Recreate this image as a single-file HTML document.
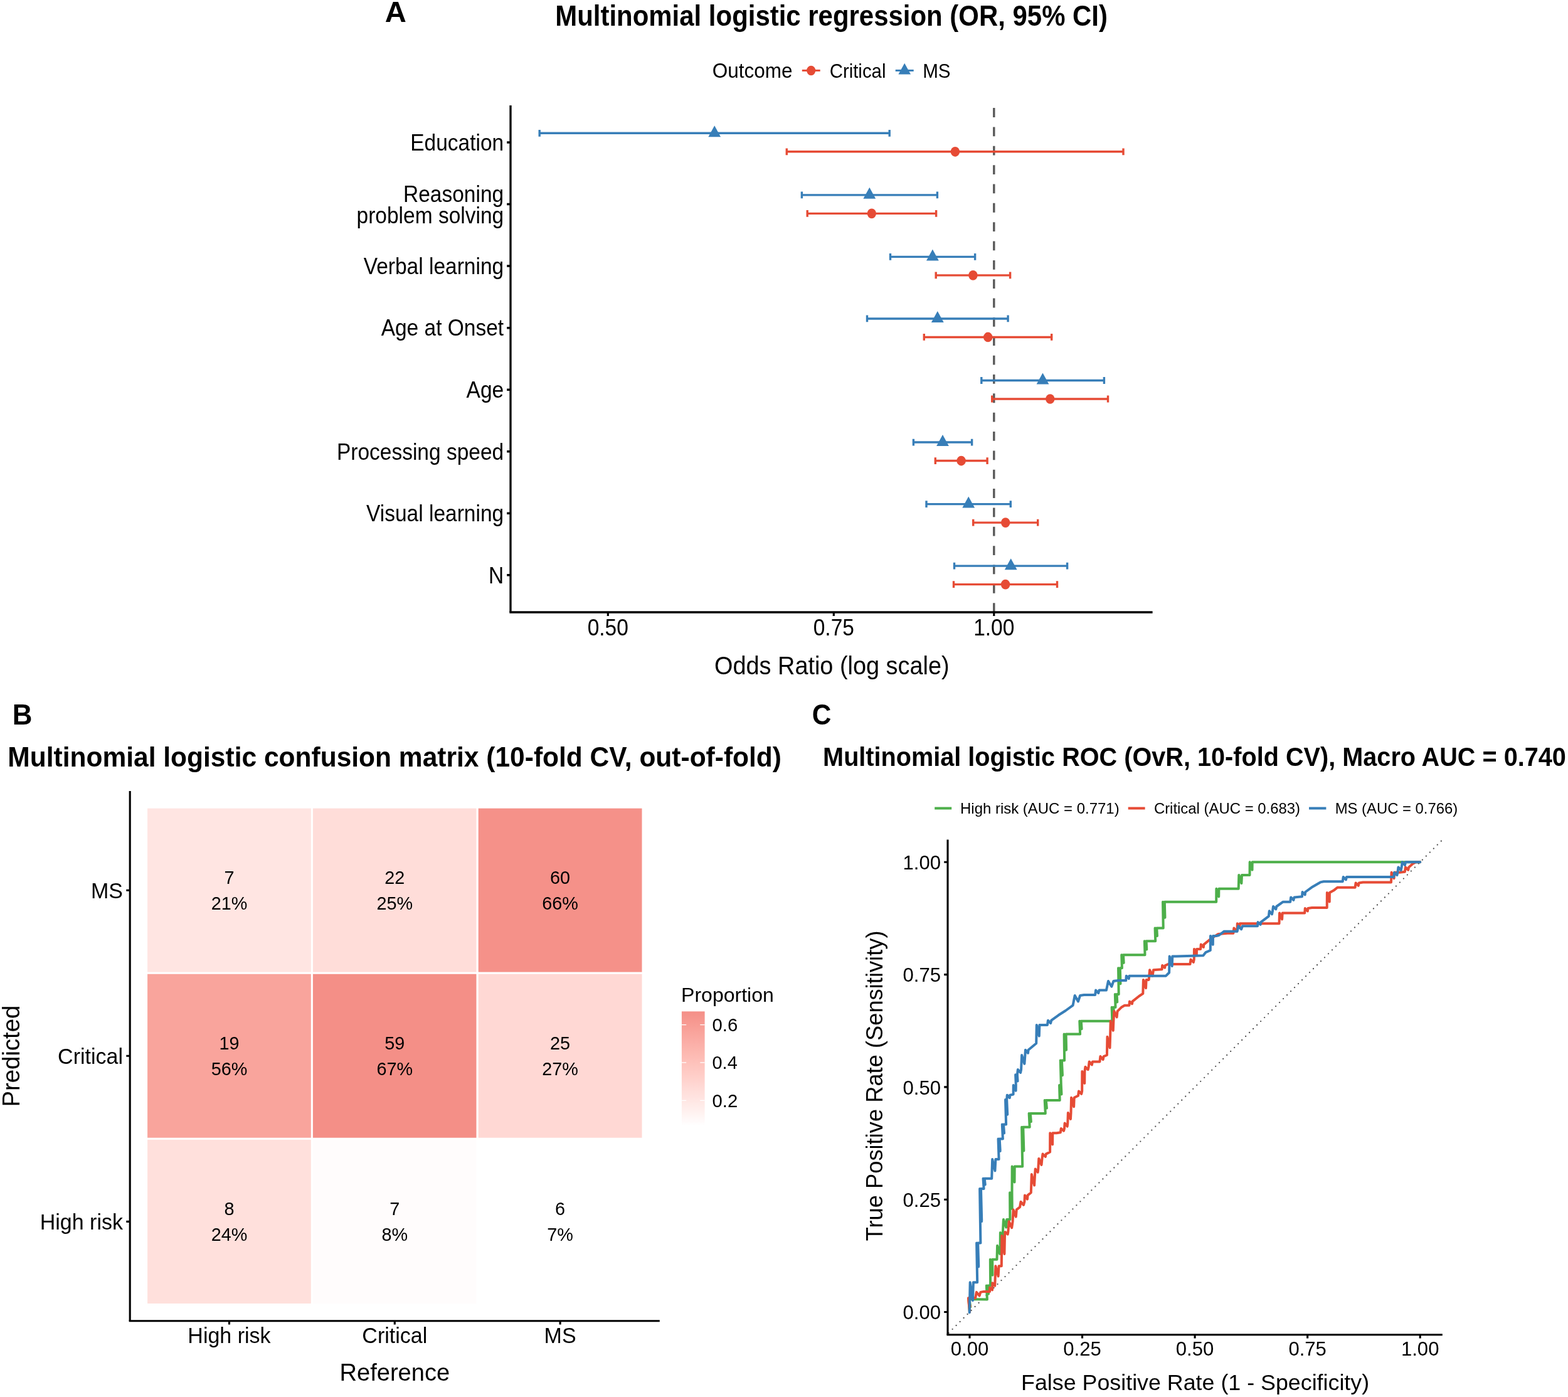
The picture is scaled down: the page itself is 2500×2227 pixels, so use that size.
<!DOCTYPE html><html><head><meta charset="utf-8"><title>Multinomial logistic regression figure</title><style>html,body{margin:0;padding:0;background:#fff;}svg{display:block;}</style></head><body><svg width="2500" height="2227" viewBox="0 0 2500 2227"><rect width="2500" height="2227" fill="#fff"/><line x1="1278.8" y1="112.4" x2="1307.7" y2="112.4" stroke="#E64B35" stroke-width="3"/>
<ellipse cx="1293.2" cy="112.5" rx="7.1" ry="7.8" fill="#E64B35"/>
<line x1="1427.7" y1="112.4" x2="1456.7" y2="112.4" stroke="#377EB8" stroke-width="3"/>
<polygon points="1442.2,100.8 1452,118.5 1432.4,118.5" fill="#377EB8"/>
<line x1="1584.8" y1="976.0" x2="1584.8" y2="168.0" stroke="#595959" stroke-width="3.4" stroke-dasharray="14.8 15.55"/>
<path d="M860.2 212.3H1418.2M860.2 206.9V217.7M1418.2 206.9V217.7" stroke="#377EB8" stroke-width="3.4" fill="none"/>
<path d="M1254.3 241.8H1791M1254.3 236.4V247.2M1791 236.4V247.2" stroke="#E64B35" stroke-width="3.4" fill="none"/>
<path d="M1278.4 310.85H1494.4M1278.4 305.45V316.25M1494.4 305.45V316.25" stroke="#377EB8" stroke-width="3.4" fill="none"/>
<path d="M1287.2 340.35H1492.6M1287.2 334.95V345.75M1492.6 334.95V345.75" stroke="#E64B35" stroke-width="3.4" fill="none"/>
<path d="M1419.5 409.4H1554.6M1419.5 404V414.8M1554.6 404V414.8" stroke="#377EB8" stroke-width="3.4" fill="none"/>
<path d="M1492.2 438.9H1610.6M1492.2 433.5V444.3M1610.6 433.5V444.3" stroke="#E64B35" stroke-width="3.4" fill="none"/>
<path d="M1382.5 507.95H1607.1M1382.5 502.55V513.35M1607.1 502.55V513.35" stroke="#377EB8" stroke-width="3.4" fill="none"/>
<path d="M1473.3 537.45H1676.7M1473.3 532.05V542.85M1676.7 532.05V542.85" stroke="#E64B35" stroke-width="3.4" fill="none"/>
<path d="M1564.8 606.5H1760.4M1564.8 601.1V611.9M1760.4 601.1V611.9" stroke="#377EB8" stroke-width="3.4" fill="none"/>
<path d="M1581.7 636H1766.5M1581.7 630.6V641.4M1766.5 630.6V641.4" stroke="#E64B35" stroke-width="3.4" fill="none"/>
<path d="M1456.4 705.05H1549.6M1456.4 699.65V710.45M1549.6 699.65V710.45" stroke="#377EB8" stroke-width="3.4" fill="none"/>
<path d="M1491.3 734.55H1574.1M1491.3 729.15V739.95M1574.1 729.15V739.95" stroke="#E64B35" stroke-width="3.4" fill="none"/>
<path d="M1477 803.6H1611.3M1477 798.2V809M1611.3 798.2V809" stroke="#377EB8" stroke-width="3.4" fill="none"/>
<path d="M1551.7 833.1H1654.7M1551.7 827.7V838.5M1654.7 827.7V838.5" stroke="#E64B35" stroke-width="3.4" fill="none"/>
<path d="M1521.5 902.15H1701.6M1521.5 896.75V907.55M1701.6 896.75V907.55" stroke="#377EB8" stroke-width="3.4" fill="none"/>
<path d="M1520.5 931.65H1685.5M1520.5 926.25V937.05M1685.5 926.25V937.05" stroke="#E64B35" stroke-width="3.4" fill="none"/>
<polygon points="1139.2,200.3 1149.1,218.3 1129.3,218.3" fill="#377EB8"/>
<ellipse cx="1522.9" cy="241.8" rx="7.2" ry="7.85" fill="#E64B35"/>
<polygon points="1386.3,298.85 1396.2,316.85 1376.4,316.85" fill="#377EB8"/>
<ellipse cx="1389.8" cy="340.35" rx="7.2" ry="7.85" fill="#E64B35"/>
<polygon points="1486.9,397.4 1496.8,415.4 1477,415.4" fill="#377EB8"/>
<ellipse cx="1551.4" cy="438.9" rx="7.2" ry="7.85" fill="#E64B35"/>
<polygon points="1494.8,495.95 1504.7,513.95 1484.9,513.95" fill="#377EB8"/>
<ellipse cx="1575.2" cy="537.45" rx="7.2" ry="7.85" fill="#E64B35"/>
<polygon points="1662.5,594.5 1672.4,612.5 1652.6,612.5" fill="#377EB8"/>
<ellipse cx="1674.3" cy="636" rx="7.2" ry="7.85" fill="#E64B35"/>
<polygon points="1503,693.05 1512.9,711.05 1493.1,711.05" fill="#377EB8"/>
<ellipse cx="1532.6" cy="734.55" rx="7.2" ry="7.85" fill="#E64B35"/>
<polygon points="1544.2,791.6 1554.1,809.6 1534.3,809.6" fill="#377EB8"/>
<ellipse cx="1603.2" cy="833.1" rx="7.2" ry="7.85" fill="#E64B35"/>
<polygon points="1611.7,890.15 1621.6,908.15 1601.8,908.15" fill="#377EB8"/>
<ellipse cx="1603.1" cy="931.65" rx="7.2" ry="7.85" fill="#E64B35"/>
<path d="M814.0 168.0V976.0" stroke="#000" stroke-width="3.3" fill="none"/>
<path d="M812.35 976.0H1837.6" stroke="#000" stroke-width="3.6" fill="none"/>
<path d="M808.2 227H814.0M808.2 325.55H814.0M808.2 424.1H814.0M808.2 522.65H814.0M808.2 621.2H814.0M808.2 719.75H814.0M808.2 818.3H814.0M808.2 916.85H814.0" stroke="#000" stroke-width="3.5" fill="none"/>
<path d="M969.3 976.0V981.9M1329.3 976.0V981.9M1584.8 976.0V981.9" stroke="#000" stroke-width="3.2" fill="none"/>
<rect x="233.6" y="1287.15" width="263.8" height="264.1" fill="#FFE5E2" stroke="#fff" stroke-width="3"/>
<rect x="497.4" y="1287.15" width="263.8" height="264.1" fill="#FFDDD9" stroke="#fff" stroke-width="3"/>
<rect x="761.2" y="1287.15" width="263.8" height="264.1" fill="#F59189" stroke="#fff" stroke-width="3"/>
<rect x="233.6" y="1551.25" width="263.8" height="264.1" fill="#F9A49C" stroke="#fff" stroke-width="3"/>
<rect x="497.4" y="1551.25" width="263.8" height="264.1" fill="#F48F87" stroke="#fff" stroke-width="3"/>
<rect x="761.2" y="1551.25" width="263.8" height="264.1" fill="#FFD8D4" stroke="#fff" stroke-width="3"/>
<rect x="233.6" y="1815.35" width="263.8" height="264.1" fill="#FFE0DC" stroke="#fff" stroke-width="3"/>
<rect x="497.4" y="1815.35" width="263.8" height="264.1" fill="#FFFCFC" stroke="#fff" stroke-width="3"/>
<rect x="761.2" y="1815.35" width="263.8" height="264.1" fill="#FFFFFF" stroke="#fff" stroke-width="3"/>
<path d="M207.2 1261.1V2105.7" stroke="#000" stroke-width="3.1" fill="none"/>
<path d="M205.64999999999998 2105.7H1051.8" stroke="#000" stroke-width="3.1" fill="none"/>
<path d="M201.3 1419.2H207.2M201.3 1683.3H207.2M201.3 1947.4H207.2" stroke="#000" stroke-width="3.1" fill="none"/>
<path d="M365.5 2105.7V2111.4M629.3 2105.7V2111.4M893.1 2105.7V2111.4" stroke="#000" stroke-width="3.1" fill="none"/>
<defs><linearGradient id="gb" x1="0" y1="0" x2="0" y2="1"><stop offset="0.000" stop-color="#F48F87"/><stop offset="0.050" stop-color="#F5958D"/><stop offset="0.100" stop-color="#F79A92"/><stop offset="0.150" stop-color="#F8A098"/><stop offset="0.200" stop-color="#F9A69E"/><stop offset="0.250" stop-color="#FAABA4"/><stop offset="0.300" stop-color="#FBB1AA"/><stop offset="0.350" stop-color="#FCB7AF"/><stop offset="0.400" stop-color="#FDBCB5"/><stop offset="0.450" stop-color="#FEC2BB"/><stop offset="0.500" stop-color="#FEC7C1"/><stop offset="0.550" stop-color="#FFCDC7"/><stop offset="0.600" stop-color="#FFD2CD"/><stop offset="0.650" stop-color="#FFD8D4"/><stop offset="0.700" stop-color="#FFDEDA"/><stop offset="0.750" stop-color="#FFE3E0"/><stop offset="0.800" stop-color="#FFE9E6"/><stop offset="0.850" stop-color="#FFEEEC"/><stop offset="0.900" stop-color="#FFF4F2"/><stop offset="0.950" stop-color="#FFF9F9"/><stop offset="1.000" stop-color="#FFFFFF"/></linearGradient></defs>
<rect x="1086.9" y="1612.34" width="36.7" height="182.41" fill="url(#gb)"/>
<path d="M1086.9 1633.6H1094.2M1116.3 1633.6H1123.6M1086.9 1693.95H1094.2M1116.3 1693.95H1123.6M1086.9 1754.3H1094.2M1116.3 1754.3H1123.6" stroke="#fff" stroke-width="1.2" fill="none"/>
<line x1="1490.2" y1="1288.5" x2="1517.2" y2="1288.5" stroke="#4DAF4A" stroke-width="4"/>
<line x1="1798.7" y1="1288.5" x2="1825.6" y2="1288.5" stroke="#E64B35" stroke-width="4"/>
<line x1="2087" y1="1288.5" x2="2114.4" y2="1288.5" stroke="#377EB8" stroke-width="4"/>
<g fill="#505050"><circle cx="1512.61" cy="2124.85" r="1.15"/><circle cx="1518.6" cy="2118.86" r="1.15"/><circle cx="1524.59" cy="2112.88" r="1.15"/><circle cx="1530.59" cy="2106.89" r="1.15"/><circle cx="1536.58" cy="2100.9" r="1.15"/><circle cx="1542.58" cy="2094.92" r="1.15"/><circle cx="1548.57" cy="2088.93" r="1.15"/><circle cx="1554.56" cy="2082.95" r="1.15"/><circle cx="1560.56" cy="2076.96" r="1.15"/><circle cx="1566.55" cy="2070.98" r="1.15"/><circle cx="1572.55" cy="2064.99" r="1.15"/><circle cx="1578.54" cy="2059.01" r="1.15"/><circle cx="1584.53" cy="2053.02" r="1.15"/><circle cx="1590.53" cy="2047.03" r="1.15"/><circle cx="1596.52" cy="2041.05" r="1.15"/><circle cx="1602.52" cy="2035.06" r="1.15"/><circle cx="1608.51" cy="2029.08" r="1.15"/><circle cx="1614.5" cy="2023.09" r="1.15"/><circle cx="1620.5" cy="2017.11" r="1.15"/><circle cx="1626.49" cy="2011.12" r="1.15"/><circle cx="1632.49" cy="2005.13" r="1.15"/><circle cx="1638.48" cy="1999.15" r="1.15"/><circle cx="1644.47" cy="1993.16" r="1.15"/><circle cx="1650.47" cy="1987.18" r="1.15"/><circle cx="1656.46" cy="1981.19" r="1.15"/><circle cx="1662.46" cy="1975.21" r="1.15"/><circle cx="1668.45" cy="1969.22" r="1.15"/><circle cx="1674.44" cy="1963.23" r="1.15"/><circle cx="1680.44" cy="1957.25" r="1.15"/><circle cx="1686.43" cy="1951.26" r="1.15"/><circle cx="1692.43" cy="1945.28" r="1.15"/><circle cx="1698.42" cy="1939.29" r="1.15"/><circle cx="1704.41" cy="1933.31" r="1.15"/><circle cx="1710.41" cy="1927.32" r="1.15"/><circle cx="1716.4" cy="1921.34" r="1.15"/><circle cx="1722.4" cy="1915.35" r="1.15"/><circle cx="1728.39" cy="1909.36" r="1.15"/><circle cx="1734.38" cy="1903.38" r="1.15"/><circle cx="1740.38" cy="1897.39" r="1.15"/><circle cx="1746.37" cy="1891.41" r="1.15"/><circle cx="1752.37" cy="1885.42" r="1.15"/><circle cx="1758.36" cy="1879.44" r="1.15"/><circle cx="1764.35" cy="1873.45" r="1.15"/><circle cx="1770.35" cy="1867.46" r="1.15"/><circle cx="1776.34" cy="1861.48" r="1.15"/><circle cx="1782.34" cy="1855.49" r="1.15"/><circle cx="1788.33" cy="1849.51" r="1.15"/><circle cx="1794.32" cy="1843.52" r="1.15"/><circle cx="1800.32" cy="1837.54" r="1.15"/><circle cx="1806.31" cy="1831.55" r="1.15"/><circle cx="1812.31" cy="1825.56" r="1.15"/><circle cx="1818.3" cy="1819.58" r="1.15"/><circle cx="1824.29" cy="1813.59" r="1.15"/><circle cx="1830.29" cy="1807.61" r="1.15"/><circle cx="1836.28" cy="1801.62" r="1.15"/><circle cx="1842.28" cy="1795.64" r="1.15"/><circle cx="1848.27" cy="1789.65" r="1.15"/><circle cx="1854.26" cy="1783.67" r="1.15"/><circle cx="1860.26" cy="1777.68" r="1.15"/><circle cx="1866.25" cy="1771.69" r="1.15"/><circle cx="1872.25" cy="1765.71" r="1.15"/><circle cx="1878.24" cy="1759.72" r="1.15"/><circle cx="1884.23" cy="1753.74" r="1.15"/><circle cx="1890.23" cy="1747.75" r="1.15"/><circle cx="1896.22" cy="1741.77" r="1.15"/><circle cx="1902.22" cy="1735.78" r="1.15"/><circle cx="1908.21" cy="1729.79" r="1.15"/><circle cx="1914.2" cy="1723.81" r="1.15"/><circle cx="1920.2" cy="1717.82" r="1.15"/><circle cx="1926.19" cy="1711.84" r="1.15"/><circle cx="1932.19" cy="1705.85" r="1.15"/><circle cx="1938.18" cy="1699.87" r="1.15"/><circle cx="1944.17" cy="1693.88" r="1.15"/><circle cx="1950.17" cy="1687.89" r="1.15"/><circle cx="1956.16" cy="1681.91" r="1.15"/><circle cx="1962.16" cy="1675.92" r="1.15"/><circle cx="1968.15" cy="1669.94" r="1.15"/><circle cx="1974.14" cy="1663.95" r="1.15"/><circle cx="1980.14" cy="1657.97" r="1.15"/><circle cx="1986.13" cy="1651.98" r="1.15"/><circle cx="1992.13" cy="1646" r="1.15"/><circle cx="1998.12" cy="1640.01" r="1.15"/><circle cx="2004.11" cy="1634.02" r="1.15"/><circle cx="2010.11" cy="1628.04" r="1.15"/><circle cx="2016.1" cy="1622.05" r="1.15"/><circle cx="2022.1" cy="1616.07" r="1.15"/><circle cx="2028.09" cy="1610.08" r="1.15"/><circle cx="2034.08" cy="1604.1" r="1.15"/><circle cx="2040.08" cy="1598.11" r="1.15"/><circle cx="2046.07" cy="1592.12" r="1.15"/><circle cx="2052.07" cy="1586.14" r="1.15"/><circle cx="2058.06" cy="1580.15" r="1.15"/><circle cx="2064.05" cy="1574.17" r="1.15"/><circle cx="2070.05" cy="1568.18" r="1.15"/><circle cx="2076.04" cy="1562.2" r="1.15"/><circle cx="2082.04" cy="1556.21" r="1.15"/><circle cx="2088.03" cy="1550.22" r="1.15"/><circle cx="2094.02" cy="1544.24" r="1.15"/><circle cx="2100.02" cy="1538.25" r="1.15"/><circle cx="2106.01" cy="1532.27" r="1.15"/><circle cx="2112.01" cy="1526.28" r="1.15"/><circle cx="2118" cy="1520.3" r="1.15"/><circle cx="2123.99" cy="1514.31" r="1.15"/><circle cx="2129.99" cy="1508.33" r="1.15"/><circle cx="2135.98" cy="1502.34" r="1.15"/><circle cx="2141.98" cy="1496.35" r="1.15"/><circle cx="2147.97" cy="1490.37" r="1.15"/><circle cx="2153.96" cy="1484.38" r="1.15"/><circle cx="2159.96" cy="1478.4" r="1.15"/><circle cx="2165.95" cy="1472.41" r="1.15"/><circle cx="2171.95" cy="1466.43" r="1.15"/><circle cx="2177.94" cy="1460.44" r="1.15"/><circle cx="2183.93" cy="1454.45" r="1.15"/><circle cx="2189.93" cy="1448.47" r="1.15"/><circle cx="2195.92" cy="1442.48" r="1.15"/><circle cx="2201.92" cy="1436.5" r="1.15"/><circle cx="2207.91" cy="1430.51" r="1.15"/><circle cx="2213.9" cy="1424.53" r="1.15"/><circle cx="2219.9" cy="1418.54" r="1.15"/><circle cx="2225.89" cy="1412.55" r="1.15"/><circle cx="2231.89" cy="1406.57" r="1.15"/><circle cx="2237.88" cy="1400.58" r="1.15"/><circle cx="2243.87" cy="1394.6" r="1.15"/><circle cx="2249.87" cy="1388.61" r="1.15"/><circle cx="2255.86" cy="1382.63" r="1.15"/><circle cx="2261.86" cy="1376.64" r="1.15"/><circle cx="2267.85" cy="1370.66" r="1.15"/><circle cx="2273.84" cy="1364.67" r="1.15"/><circle cx="2279.84" cy="1358.68" r="1.15"/><circle cx="2285.83" cy="1352.7" r="1.15"/><circle cx="2291.83" cy="1346.71" r="1.15"/><circle cx="2297.82" cy="1340.73" r="1.15"/></g>
<path d="M1546 2091.5 L1544.3 2071 L1547.2 2083.3 L1545.5 2071 L1573.9 2071.4 L1572.8 2049.5 L1576 2062.64 L1574.9 2049.5 L1579.1 2049.5 L1578.84 2007.7 L1582.46 2032.78 L1582.2 2007.7 L1589.5 2007.7 L1590.08 1985.8 L1594.12 1998.94 L1594.7 1985.8 L1594.88 1964.9 L1598.72 1977.44 L1598.9 1964.9 L1599.92 1944 L1604.18 1956.54 L1605.2 1944 L1610.4 1944 L1610.14 1901.2 L1613.76 1926.88 L1613.5 1901.2 L1613.68 1859.5 L1617.52 1884.52 L1617.7 1859.5 L1630.2 1859.5 L1629.14 1796.8 L1632.36 1834.42 L1631.3 1796.8 L1641.7 1796.8 L1640.64 1774.9 L1643.86 1788.04 L1642.8 1774.9 L1666.8 1774.9 L1665.7 1754 L1668.9 1766.54 L1667.8 1754 L1689.7 1754 L1689.04 1730 L1692.46 1744.4 L1691.8 1730 L1690.74 1690.4 L1693.96 1714.16 L1692.9 1690.4 L1697.1 1690.4 L1696.6 1648.6 L1700.1 1673.68 L1699.6 1648.6 L1722.1 1648.6 L1721.28 1627.7 L1724.62 1640.24 L1723.8 1627.7 L1773.3 1627.7 L1772.64 1605.8 L1776.06 1618.94 L1775.4 1605.8 L1778.5 1605.8 L1777.84 1584.9 L1781.26 1597.44 L1780.6 1584.9 L1783.7 1584.9 L1783.04 1543.2 L1786.46 1568.22 L1785.8 1543.2 L1788.9 1543.2 L1788.24 1522.3 L1791.66 1534.84 L1791 1522.3 L1825.5 1522.3 L1824.84 1500.3 L1828.26 1513.5 L1827.6 1500.3 L1842.2 1500.3 L1841.54 1479.5 L1844.96 1491.98 L1844.3 1479.5 L1854.7 1479.5 L1854.04 1437.7 L1857.46 1462.78 L1856.8 1437.7 L1939.2 1437.7 L1939.38 1416.8 L1943.22 1429.34 L1943.4 1416.8 L1974.7 1416.8 L1975.32 1394.9 L1979.38 1408.04 L1980 1394.9 L1992.5 1394.9 L1992.68 1374.3 L1996.52 1386.66 L1996.7 1374.3 L2264.2 1374.3" stroke="#4DAF4A" stroke-width="4.0" fill="none" stroke-linejoin="round" stroke-linecap="round"/>
<path d="M1546 2091.5 L1543.94 2069.3 L1546.66 2082.62 L1544.6 2069.3 L1555.1 2069.3 L1556.92 2059.9 L1561.58 2065.54 L1563.4 2059.9 L1568.6 2058.9 L1578 2058.9 L1578.18 2052.6 L1582.02 2056.38 L1582.2 2052.6 L1582.38 2045.3 L1586.22 2049.68 L1586.4 2045.3 L1587.38 2018.2 L1591.62 2034.46 L1592.6 2018.2 L1596.8 2018.2 L1597.38 1970.1 L1601.42 1998.96 L1602 1970.1 L1602.62 1963.9 L1606.68 1967.62 L1607.3 1963.9 L1608.72 1947.2 L1613.18 1957.22 L1614.6 1947.2 L1615.58 1928.4 L1619.82 1939.68 L1620.8 1928.4 L1626.1 1924.2 L1627.52 1915.8 L1631.98 1920.84 L1633.4 1915.8 L1633.98 1905.4 L1638.02 1911.64 L1638.6 1905.4 L1643.8 1901.2 L1644.82 1872 L1649.08 1889.52 L1650.1 1872 L1650.68 1863.6 L1654.72 1868.64 L1655.3 1863.6 L1656.28 1846.9 L1660.52 1856.92 L1661.5 1846.9 L1662.52 1839.6 L1666.78 1843.98 L1667.8 1839.6 L1674.1 1836.5 L1674.28 1806.2 L1678.12 1824.38 L1678.3 1806.2 L1684.5 1806.2 L1690.8 1805.2 L1691.78 1798.9 L1696.02 1802.68 L1697 1798.9 L1697.62 1790.6 L1701.68 1795.58 L1702.3 1790.6 L1702.88 1773.9 L1706.92 1783.92 L1707.5 1773.9 L1708.08 1749.8 L1712.12 1764.26 L1712.7 1749.8 L1719 1746.7 L1719.98 1739.4 L1724.22 1743.78 L1725.2 1739.4 L1725.38 1708.1 L1729.22 1726.88 L1729.4 1708.1 L1730.42 1700.8 L1734.68 1705.18 L1735.7 1700.8 L1736.68 1692.4 L1740.92 1697.44 L1741.9 1692.4 L1753.4 1692.4 L1754.42 1684.1 L1758.68 1689.08 L1759.7 1684.1 L1764.9 1682 L1765.48 1652.8 L1769.52 1670.32 L1770.1 1652.8 L1770.72 1627.7 L1774.78 1642.76 L1775.4 1627.7 L1776.38 1612.1 L1780.62 1621.46 L1781.6 1612.1 L1787.9 1605.8 L1793.1 1602.7 L1800.4 1602.7 L1800.98 1596.4 L1805.02 1600.18 L1805.6 1596.4 L1816.1 1588 L1822.3 1583.9 L1822.92 1561.9 L1826.98 1575.1 L1827.6 1561.9 L1831.7 1561.9 L1833.12 1546.3 L1837.58 1555.66 L1839 1546.3 L1852.6 1545.2 L1853.18 1539 L1857.22 1542.72 L1857.8 1539 L1863 1536.9 L1897.5 1536.9 L1898.52 1529.6 L1902.78 1533.98 L1903.8 1529.6 L1903.98 1512.9 L1907.82 1522.92 L1908 1512.9 L1914.2 1512.9 L1914.78 1505.6 L1918.82 1509.98 L1919.4 1505.6 L1930.9 1496.2 L1942.4 1488.9 L1957 1487.8 L1966.4 1487.8 L1967.38 1479.5 L1971.62 1484.48 L1972.6 1479.5 L1972.78 1472.2 L1976.62 1476.58 L1976.8 1472.2 L1982 1472.2 L2039.5 1472.2 L2040.08 1455.4 L2044.12 1465.48 L2044.7 1455.4 L2052 1455.4 L2080.2 1455.4 L2080.78 1448.1 L2084.82 1452.48 L2085.4 1448.1 L2091.7 1447.1 L2115.7 1447.1 L2115.88 1423.1 L2119.72 1437.5 L2119.9 1423.1 L2127.2 1418.9 L2132.4 1414.7 L2160.6 1414.7 L2161.58 1407.4 L2165.82 1411.78 L2166.8 1407.4 L2173.1 1406.4 L2218 1406.4 L2218.58 1390.7 L2222.62 1400.12 L2223.2 1390.7 L2231.6 1390.7 L2239.9 1389.7 L2240.92 1382.4 L2245.18 1386.78 L2246.2 1382.4 L2252.4 1377.1 L2257.7 1374.3 L2264.2 1374.3" stroke="#E64B35" stroke-width="4.0" fill="none" stroke-linejoin="round" stroke-linecap="round"/>
<path d="M1545.7 2092.3 L1546.68 2044.3 L1550.92 2073.1 L1551.9 2044.3 L1558.2 2044.3 L1557.1 1981.6 L1560.3 2019.22 L1559.2 1981.6 L1563.4 1981.6 L1562.14 1895 L1565.26 1946.96 L1564 1895 L1568.6 1895 L1567.54 1878.7 L1570.76 1888.48 L1569.7 1878.7 L1581.2 1878.7 L1582.18 1848 L1586.42 1866.42 L1587.4 1848 L1592.6 1848 L1591.54 1815.6 L1594.76 1835.04 L1593.7 1815.6 L1598.9 1815.6 L1597.84 1792.6 L1601.06 1806.4 L1600 1792.6 L1604.1 1792.6 L1603.04 1753 L1606.26 1776.76 L1605.2 1753 L1605.78 1745.7 L1609.82 1750.08 L1610.4 1745.7 L1615.6 1744.6 L1615.78 1730 L1619.62 1738.76 L1619.8 1730 L1619.14 1713.3 L1622.56 1723.32 L1621.9 1713.3 L1622.88 1705 L1627.12 1709.98 L1628.1 1705 L1629.12 1682 L1633.38 1695.8 L1634.4 1682 L1634.98 1673.7 L1639.02 1678.68 L1639.6 1673.7 L1652.2 1663.2 L1652.78 1634 L1656.82 1651.52 L1657.4 1634 L1669.9 1634 L1670.92 1626.7 L1675.18 1631.08 L1676.2 1626.7 L1687.7 1618.3 L1699.1 1611 L1710.6 1602.7 L1713.7 1587 L1719 1596.42 L1722.1 1587 L1728.4 1586 L1746.1 1586 L1747.12 1578.6 L1751.38 1583.04 L1752.4 1578.6 L1763.9 1578.6 L1767 1564 L1772.3 1572.76 L1775.4 1564 L1782.7 1563 L1795.2 1563 L1795.78 1555.7 L1799.82 1560.08 L1800.4 1555.7 L1858.9 1555.7 L1864.1 1550.5 L1864.68 1524.4 L1868.72 1540.06 L1869.3 1524.4 L1875.6 1524.4 L1918.4 1523.3 L1922.5 1518.1 L1929.8 1515 L1929.98 1492 L1933.82 1505.8 L1934 1492 L1939.2 1492 L1943.4 1491 L1951.8 1484.7 L1972.6 1484.7 L1974.46 1476.3 L1979.14 1481.34 L1981 1476.3 L2005 1476.3 L2005.58 1470.1 L2009.62 1473.82 L2010.2 1470.1 L2022.8 1460.7 L2023.78 1452.3 L2028.02 1457.34 L2029 1452.3 L2030.02 1445 L2034.28 1449.38 L2035.3 1445 L2045.7 1437.7 L2057.2 1437.7 L2058.22 1430.4 L2062.48 1434.78 L2063.5 1430.4 L2076 1429.3 L2076.58 1422 L2080.62 1426.38 L2081.2 1422 L2092.7 1413.7 L2105.2 1406.4 L2110.5 1405.3 L2140.7 1405.3 L2141.72 1398 L2145.98 1402.38 L2147 1398 L2222.2 1398 L2223.18 1390.7 L2227.42 1395.08 L2228.4 1390.7 L2229.42 1382.4 L2233.68 1387.38 L2234.7 1382.4 L2235.72 1374.3 L2239.98 1379.16 L2241 1374.3 L2264.2 1374.3" stroke="#377EB8" stroke-width="4.0" fill="none" stroke-linejoin="round" stroke-linecap="round"/>
<path d="M1511.0 1338.6V2127.8" stroke="#000" stroke-width="3.1" fill="none"/>
<path d="M1509.45 2127.8H2299.8" stroke="#000" stroke-width="3.1" fill="none"/>
<path d="M1505.2 2091.5H1511.0M1505.2 1912.2H1511.0M1505.2 1732.9H1511.0M1505.2 1553.6H1511.0M1505.2 1374.3H1511.0M1546 2127.8V2133.6M1725.55 2127.8V2133.6M1905.1 2127.8V2133.6M2084.65 2127.8V2133.6M2264.2 2127.8V2133.6" stroke="#000" stroke-width="3.1" fill="none"/>
<g font-family="'Liberation Sans', Arial, Helvetica, sans-serif" fill="#000">
<text x="613.76" y="35.1" font-size="47.27" font-weight="bold" transform="matrix(1 0 0 0.9718 0 0.99)">A</text>
<text x="885.28" y="40.6" font-size="41.95" font-weight="bold" transform="matrix(1 0 0 1.0900 0 -3.65)">Multinomial logistic regression (OR, 95% CI)</text>
<text x="1135.82" y="124.3" font-size="31.51" transform="matrix(1 0 0 1.0800 0 -9.94)">Outcome</text>
<text x="1322.72" y="123.6" font-size="29.36" transform="matrix(1 0 0 1.0800 0 -9.89)">Critical</text>
<text x="1471.18" y="123.6" font-size="29.64" transform="matrix(1 0 0 1.0800 0 -9.89)">MS</text>
<text x="654.2" y="239.8" font-size="33.5" transform="matrix(1 0 0 1.0800 0 -19.18)">Education</text>
<text x="579.71" y="436.9" font-size="33.5" transform="matrix(1 0 0 1.0800 0 -34.95)">Verbal learning</text>
<text x="607.66" y="535.45" font-size="33.5" transform="matrix(1 0 0 1.0800 0 -42.84)">Age at Onset</text>
<text x="743.59" y="634" font-size="33.5" transform="matrix(1 0 0 1.0800 0 -50.72)">Age</text>
<text x="536.9" y="732.55" font-size="33.5" transform="matrix(1 0 0 1.0800 0 -58.6)">Processing speed</text>
<text x="584.06" y="831.1" font-size="33.5" transform="matrix(1 0 0 1.0800 0 -66.49)">Visual learning</text>
<text x="779.01" y="929.65" font-size="33.5" transform="matrix(1 0 0 1.0800 0 -74.37)">N</text>
<text x="643.03" y="322" font-size="33.5" transform="matrix(1 0 0 1.0800 0 -25.76)">Reasoning</text>
<text x="568.59" y="356" font-size="33.5" transform="matrix(1 0 0 1.0800 0 -28.48)">problem solving</text>
<text x="936.7" y="1013.1" font-size="33.5" transform="matrix(1 0 0 1.0800 0 -81.05)">0.50</text>
<text x="1296.7" y="1013.1" font-size="33.5" transform="matrix(1 0 0 1.0800 0 -81.05)">0.75</text>
<text x="1552.2" y="1013.1" font-size="33.5" transform="matrix(1 0 0 1.0800 0 -81.05)">1.00</text>
<text x="1139.02" y="1075.5" font-size="37.88" transform="matrix(1 0 0 1.0800 0 -86.04)">Odds Ratio (log scale)</text>
<text x="19.86" y="1155.1" font-size="43.84" font-weight="bold" transform="matrix(1 0 0 1.0543 0 -62.77)">B</text>
<text x="12.34" y="1222.5" font-size="42.52" font-weight="bold" transform="matrix(1 0 0 1.0300 0 -36.68)">Multinomial logistic confusion matrix (10-fold CV, out-of-fold)</text>
<text x="357.49" y="1408.6" font-size="28.8" transform="matrix(1 0 0 1.0300 0 -42.26)">7</text>
<text x="336.68" y="1450.3" font-size="28.8" transform="matrix(1 0 0 1.0300 0 -43.51)">21%</text>
<text x="613.28" y="1408.6" font-size="28.8" transform="matrix(1 0 0 1.0300 0 -42.26)">22</text>
<text x="600.48" y="1450.3" font-size="28.8" transform="matrix(1 0 0 1.0300 0 -43.51)">25%</text>
<text x="877.08" y="1408.6" font-size="28.8" transform="matrix(1 0 0 1.0300 0 -42.26)">60</text>
<text x="864.28" y="1450.3" font-size="28.8" transform="matrix(1 0 0 1.0300 0 -43.51)">66%</text>
<text x="349.48" y="1672.7" font-size="28.8" transform="matrix(1 0 0 1.0300 0 -50.18)">19</text>
<text x="336.68" y="1714.4" font-size="28.8" transform="matrix(1 0 0 1.0300 0 -51.43)">56%</text>
<text x="613.28" y="1672.7" font-size="28.8" transform="matrix(1 0 0 1.0300 0 -50.18)">59</text>
<text x="600.48" y="1714.4" font-size="28.8" transform="matrix(1 0 0 1.0300 0 -51.43)">67%</text>
<text x="877.08" y="1672.7" font-size="28.8" transform="matrix(1 0 0 1.0300 0 -50.18)">25</text>
<text x="864.28" y="1714.4" font-size="28.8" transform="matrix(1 0 0 1.0300 0 -51.43)">27%</text>
<text x="357.49" y="1936.8" font-size="28.8" transform="matrix(1 0 0 1.0300 0 -58.1)">8</text>
<text x="336.68" y="1978.5" font-size="28.8" transform="matrix(1 0 0 1.0300 0 -59.36)">24%</text>
<text x="621.29" y="1936.8" font-size="28.8" transform="matrix(1 0 0 1.0300 0 -58.1)">7</text>
<text x="608.49" y="1978.5" font-size="28.8" transform="matrix(1 0 0 1.0300 0 -59.36)">8%</text>
<text x="885.09" y="1936.8" font-size="28.8" transform="matrix(1 0 0 1.0300 0 -58.1)">6</text>
<text x="872.29" y="1978.5" font-size="28.8" transform="matrix(1 0 0 1.0300 0 -59.36)">7%</text>
<text x="145" y="1431.6" font-size="34" transform="matrix(1 0 0 1.0300 0 -42.95)">MS</text>
<text x="92.11" y="1695.7" font-size="34" transform="matrix(1 0 0 1.0300 0 -50.87)">Critical</text>
<text x="63.75" y="1959.8" font-size="34" transform="matrix(1 0 0 1.0300 0 -58.79)">High risk</text>
<text x="299.38" y="2140.9" font-size="34" transform="matrix(1 0 0 1.0300 0 -64.23)">High risk</text>
<text x="577.35" y="2140.9" font-size="34" transform="matrix(1 0 0 1.0300 0 -64.23)">Critical</text>
<text x="867.6" y="2140.9" font-size="34" transform="matrix(1 0 0 1.0300 0 -64.23)">MS</text>
<text x="541.51" y="2200.8" font-size="38.1" transform="matrix(1 0 0 1.0300 0 -66.02)">Reference</text>
<text transform="translate(30.9,1764.6) rotate(-90) scale(1,1.03)" font-size="38.38">Predicted</text>
<text x="1086.1" y="1597.1" font-size="32.03">Proportion</text>
<text x="1135.49" y="1643.9" font-size="29.28">0.6</text>
<text x="1135.5" y="1704.25" font-size="28.94">0.4</text>
<text x="1135.49" y="1764.6" font-size="29.28">0.2</text>
<text x="1294.77" y="1154.9" font-size="42.42" font-weight="bold" transform="matrix(1 0 0 1.1098 0 -126.79)">C</text>
<text x="1312.12" y="1220.8" font-size="39.65" font-weight="bold" transform="matrix(1 0 0 1.0550 0 -67.14)">Multinomial logistic ROC (OvR, 10-fold CV), Macro AUC = 0.740</text>
<text x="1531.03" y="1296.9" font-size="23.96">High risk (AUC = 0.771)</text>
<text x="1839.88" y="1296.9" font-size="23.91">Critical (AUC = 0.683)</text>
<text x="2128.63" y="1296.9" font-size="23.87">MS (AUC = 0.766)</text>
<text x="1439.47" y="2103.1" font-size="31.1" transform="matrix(1 0 0 1.0200 0 -42.06)">0.00</text>
<text x="1515.74" y="2160.7" font-size="31.1" transform="matrix(1 0 0 1.0200 0 -43.21)">0.00</text>
<text x="1439.47" y="1923.8" font-size="31.1" transform="matrix(1 0 0 1.0200 0 -38.48)">0.25</text>
<text x="1695.29" y="2160.7" font-size="31.1" transform="matrix(1 0 0 1.0200 0 -43.21)">0.25</text>
<text x="1439.47" y="1744.5" font-size="31.1" transform="matrix(1 0 0 1.0200 0 -34.89)">0.50</text>
<text x="1874.84" y="2160.7" font-size="31.1" transform="matrix(1 0 0 1.0200 0 -43.21)">0.50</text>
<text x="1439.47" y="1565.2" font-size="31.1" transform="matrix(1 0 0 1.0200 0 -31.3)">0.75</text>
<text x="2054.39" y="2160.7" font-size="31.1" transform="matrix(1 0 0 1.0200 0 -43.21)">0.75</text>
<text x="1439.47" y="1385.9" font-size="31.1" transform="matrix(1 0 0 1.0200 0 -27.72)">1.00</text>
<text x="2233.94" y="2160.7" font-size="31.1" transform="matrix(1 0 0 1.0200 0 -43.21)">1.00</text>
<text x="1628.1" y="2215.8" font-size="35.8">False Positive Rate (1 - Specificity)</text>
<text transform="translate(1407.4,1978.37) rotate(-90) scale(1,1.0)" font-size="36.31">True Positive Rate (Sensitivity)</text>
</g></svg></body></html>
